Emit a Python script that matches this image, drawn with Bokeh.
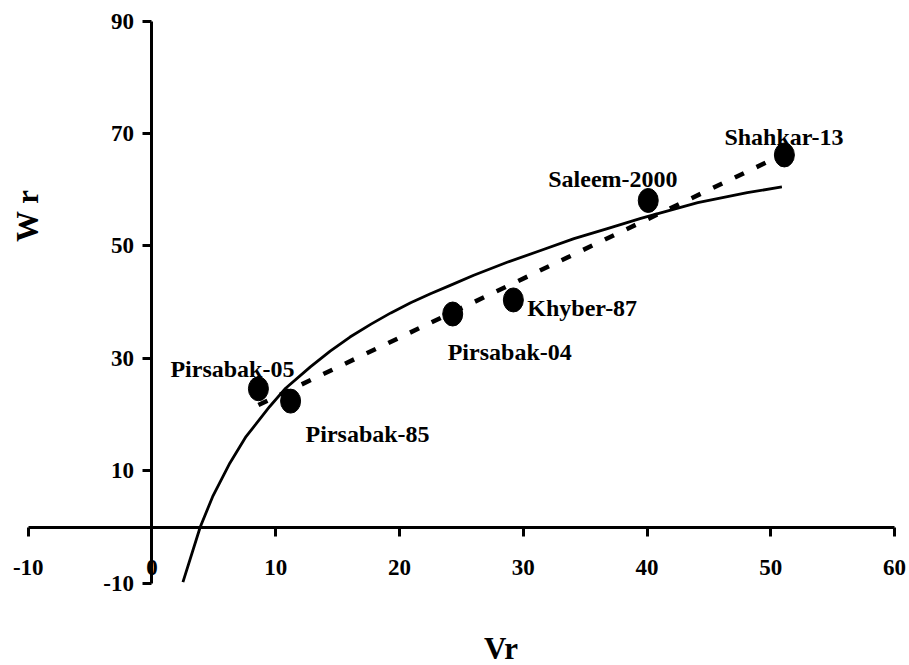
from bokeh.plotting import figure
from bokeh.models import Range1d, FixedTicker, ColumnDataSource
from bokeh.embed import file_html
from bokeh.resources import INLINE
from bokeh.core.properties import value

# ---- data ----
genotypes = ["Pirsabak-05", "Pirsabak-85", "Pirsabak-04", "Khyber-87", "Saleem-2000", "Shahkar-13"]
vr = [8.6, 11.2, 24.3, 29.2, 40.1, 51.1]
wr = [24.6, 22.4, 37.9, 40.4, 58.1, 66.2]

# regression (dashed) line end points
fit_vr = [8.6, 51.1]
fit_wr = [21.7, 66.4]

# solid curve points
curve_vr = [2.5, 3.9, 4.9, 6.3, 7.6, 9.5, 10.8, 12.8, 14.4, 16.0, 17.7, 19.3, 20.9, 22.5, 24.1,
            26.0, 28.7, 31.4, 34.1, 36.8, 39.5, 44.1, 48.1, 50.9]
curve_wr = [-9.8, 0.0, 5.4, 11.4, 16.1, 21.4, 24.7, 28.5, 31.3, 33.8, 36.1, 38.1, 39.9, 41.5, 43.0,
            44.8, 47.1, 49.2, 51.3, 53.1, 54.9, 57.7, 59.5, 60.5]

x_ticks = [-10, 0, 10, 20, 30, 40, 50, 60]
y_ticks = [-10, 10, 30, 50, 70, 90]

# label placement (screen pixel offsets from each point)
label_dx = [-88, 15, -5, 14, -100, -60]
label_dy = [-20, 33, 38, 8, -21, -18]

FONT = "'Liberation Serif', 'Times New Roman', serif"

p = figure(width=909, height=665,
           x_range=Range1d(-12.24, 61.21), y_range=Range1d(-24.64, 93.68),
           output_backend="svg", toolbar_location=None, min_border=0)
p.outline_line_color = None
p.grid.visible = False
p.background_fill_color = "white"
p.border_fill_color = "white"

for ax in p.xaxis:
    ax.fixed_location = 0
    ax.bounds = (-10, 60)
    ax.ticker = FixedTicker(ticks=x_ticks, minor_ticks=[])
for ax in p.yaxis:
    ax.fixed_location = 0
    ax.bounds = (-10, 90)
    ax.ticker = FixedTicker(ticks=y_ticks, minor_ticks=[])

for ax in list(p.xaxis) + list(p.yaxis):
    ax.axis_line_width = 3
    ax.axis_line_color = "black"
    ax.major_tick_line_width = 3
    ax.major_tick_line_color = "black"
    ax.major_tick_in = 0
    ax.major_tick_out = 9
    ax.minor_tick_out = 0
    ax.minor_tick_in = 0
    ax.major_label_text_font = FONT
    ax.major_label_text_font_style = "bold"
    ax.major_label_text_font_size = "23px"
    ax.major_label_text_color = "black"
    ax.major_label_overrides = {-10: "-10"}
p.xaxis.major_label_standoff = 24
p.yaxis.major_label_standoff = 9

# solid curve
p.line(curve_vr, curve_wr, line_color="black", line_width=2.8, line_join="round")
# dashed regression line
p.line(fit_vr, fit_wr, line_color="black", line_width=4.5, line_dash="10 14")

src = ColumnDataSource(dict(x=vr, y=wr, name=genotypes, dx=label_dx, dy=label_dy))
p.ellipse(x="x", y="y", width=20, height=24, width_units="screen", height_units="screen",
          source=src, fill_color="black", line_color="black")
p.text(x="x", y="y", text="name", x_offset="dx", y_offset="dy", source=src,
       text_font=value(FONT), text_font_style="bold", text_font_size="24px",
       text_color="black", text_align="left", text_baseline="alphabetic")

# axis titles
p.text(x=[-10.06], y=[55.4], text=["W r"], angle=1.5708,
       text_font=value(FONT), text_font_style="bold", text_font_size="31px",
       text_color="black", text_align="center", text_baseline="middle")
p.text(x=[28.2], y=[-21.6], text=["Vr"],
       text_font=value(FONT), text_font_style="bold", text_font_size="31px",
       text_color="black", text_align="center", text_baseline="middle")

open("out.html", "w").write(file_html(p, INLINE))
